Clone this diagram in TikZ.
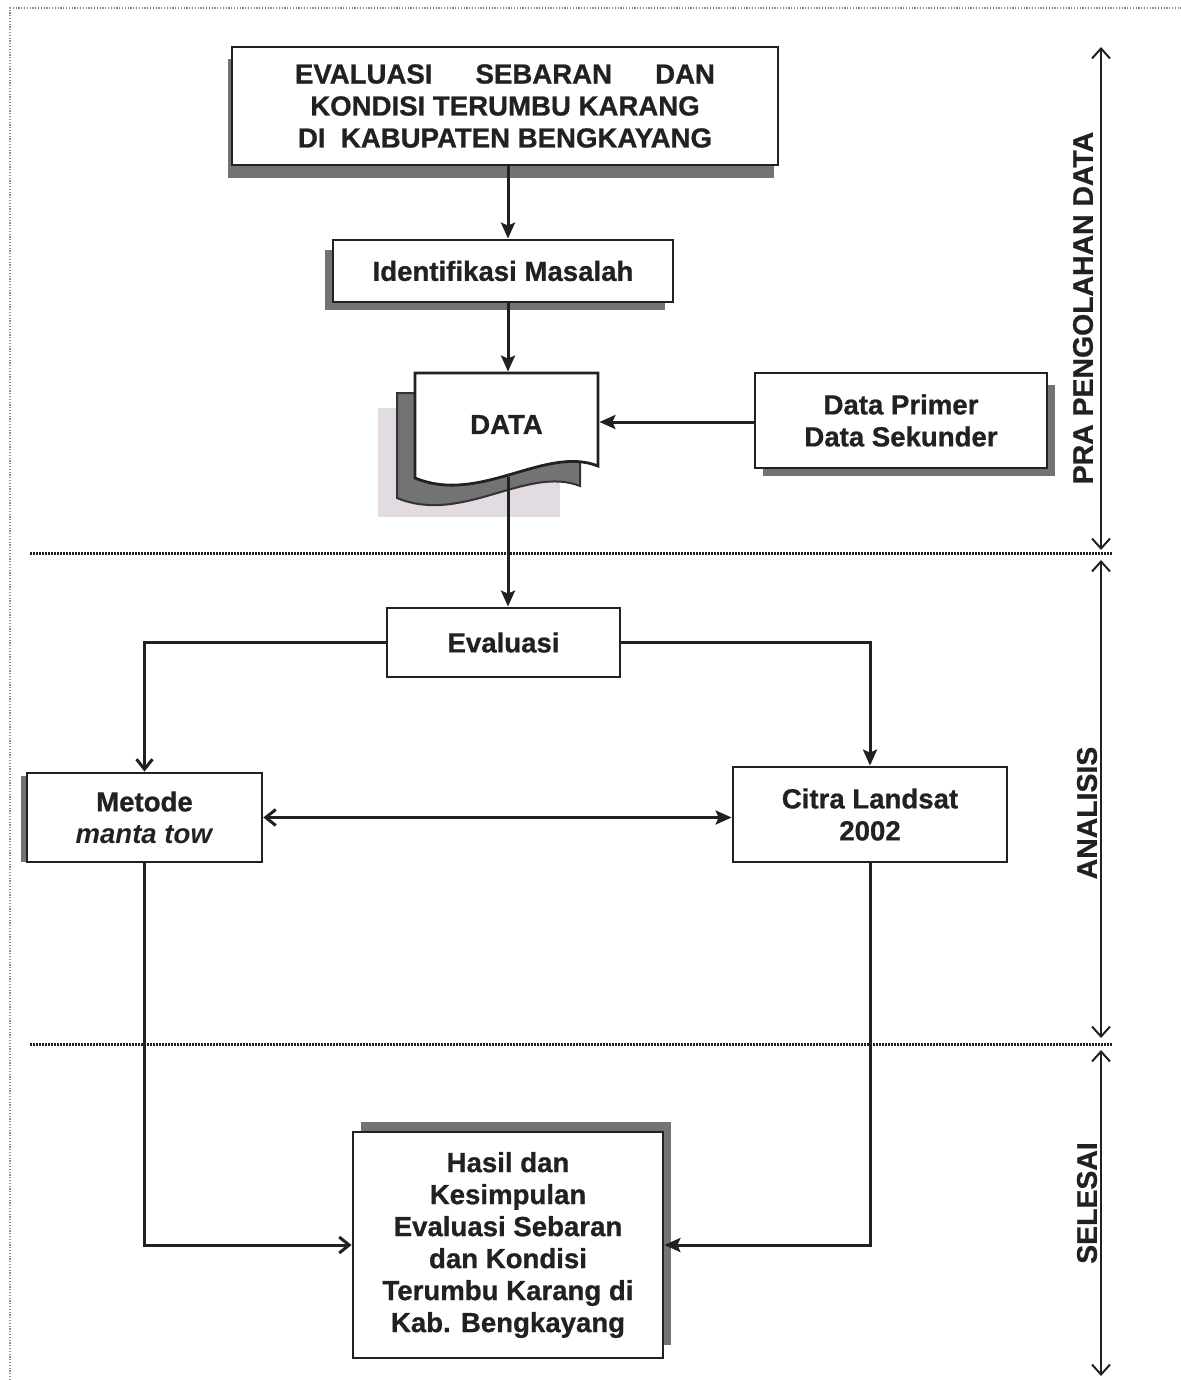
\documentclass[tikz,border=0pt]{standalone}
\usepackage{fontspec}
\setmainfont{Liberation Sans}[BoldFeatures={FakeBold=0.8}]
\usetikzlibrary{arrows.meta,calc}
\definecolor{ink}{gray}{0.13}
\definecolor{bgpink}{RGB}{226,219,226}
\begin{document}
\begin{tikzpicture}[x=0.5pt,y=-0.5pt,
  box/.style={draw=ink, line width=1.4pt, fill=white, inner sep=0pt,
    font=\fontsize{13.8}{16}\selectfont\bfseries, text=ink, align=center},
  shadowfill/.style={fill=black!55},
  flow/.style={draw=ink, line width=1.5pt, -{Stealth[length=8pt,width=7pt,inset=1.5pt]}},
  chev/.style={draw=ink, line width=1.5pt, -{Straight Barb[length=5pt,width=8pt,line width=1.5pt]}},
  axis/.style={draw=ink, line width=1pt,
    {Straight Barb[length=5pt,width=9pt]}-{Straight Barb[length=5pt,width=9pt]}},
  sep/.style={draw=ink, line width=1.5pt, dash pattern=on 0.8pt off 0.7pt},
  framedot/.style={draw=black!45, line width=0.7pt, dash pattern=on 0.6pt off 0.8pt},
  phase/.style={rotate=90, font=\fontsize{14.2}{16}\selectfont\bfseries, text=ink}
]
\useasboundingbox (0,0) rectangle (1181,1380);
% outer frame
\draw[framedot] (10,1380) -- (10,8) -- (1181,8);

% column helpers
\coordinate (colx) at (508,0);
\coordinate (rowy) at (0,422);

% title
\fill[shadowfill] (228,59) rectangle (774,178);
\node[box, minimum width=273pt, minimum height=59pt] (title) at (505,106)
  {\makebox[210pt]{EVALUASI\hfill SEBARAN\hfill DAN}\\KONDISI TERUMBU KARANG\\DI\ \ KABUPATEN BENGKAYANG};

% identifikasi
\fill[shadowfill] (325,250) rectangle (665,310);
\node[box, minimum width=170pt, minimum height=31pt] (ident) at (503,271) {Identifikasi Masalah};

% data document
\fill[bgpink] (378,408) rectangle (560,517);
\filldraw[fill=black!55, draw=black!80, line width=1pt]
  (397,393) -- (580,393) -- (580,486) .. controls (527,465) and (462,525) .. (397,498) -- cycle;
\filldraw[fill=white, draw=ink, line width=1.4pt]
  (415,373) -- (598,373) -- (598,466) .. controls (545,445) and (480,505) .. (415,478) -- cycle;
\node[box, draw=none, fill=none, minimum width=91.5pt, minimum height=51.5pt] (data) at (506.5,424.5)
  {\raisebox{-2.5pt}{DATA}};

% data primer
\fill[shadowfill] (763,385) rectangle (1055,476);
\node[box, minimum width=146pt, minimum height=47.5pt] (primer) at (901,420.5) {Data Primer\\Data Sekunder};

% evaluasi
\node[box, minimum width=116.5pt, minimum height=34.5pt] (eval) at (503.5,642.5) {Evaluasi};

% metode
\fill[shadowfill] (21,776) rectangle (262,862);
\node[box, minimum width=117.5pt, minimum height=44.5pt] (metode) at (144.5,817.5) {Metode\\\textit{manta tow}};

% citra
\node[box, minimum width=137pt, minimum height=47.5pt] (citra) at (870,814.5) {Citra Landsat\\2002};

% hasil
\fill[shadowfill] (361,1122) rectangle (671,1345);
\node[box, minimum width=155pt, minimum height=113pt] (hasil) at (508,1245)
  {Hasil dan\\Kesimpulan\\Evaluasi Sebaran\\dan Kondisi\\Terumbu Karang di\\Kab. Bengkayang};

% separators
\draw[sep] (30,553) -- (1112,553);
\draw[sep] (30,1044) -- (1112,1044);

% connectors
\draw[flow] (title.south -| colx) -- (ident.north -| colx);
\draw[flow] (ident.south -| colx) -- (data.north -| colx);
\draw[flow] (primer.west |- rowy) -- (data.east |- rowy);
\draw[flow] (data.south -| colx) -- (eval.north -| colx);
\draw[chev] (eval.west) -| (metode.north);
\draw[flow] (eval.east) -| (citra.north);
\draw[draw=ink, line width=1.5pt,
  {Straight Barb[length=5pt,width=8pt,line width=1.5pt]}-{Stealth[length=8pt,width=7pt,inset=1.5pt]}]
  (metode.east) -- (metode.east -| citra.west);
\draw[chev] (metode.south) |- (hasil.west);
\draw[flow] (citra.south) |- (hasil.east);

% phase axes
\coordinate (a1) at (1101,47);
\coordinate (a2) at (1101,550);
\coordinate (b1) at (1101,560);
\coordinate (b2) at (1101,1038);
\coordinate (c1) at (1101,1050);
\coordinate (c2) at (1101,1376);
\draw[axis] (a1) -- (a2);
\draw[axis] (b1) -- (b2);
\draw[axis] (c1) -- (c2);
\node[phase] (pra) at (1083,308) {PRA PENGOLAHAN DATA};
\node[phase] (ana) at (1087,813) {ANALISIS};
\node[phase] (sel) at (1087,1203) {SELESAI};
\end{tikzpicture}
\end{document}
